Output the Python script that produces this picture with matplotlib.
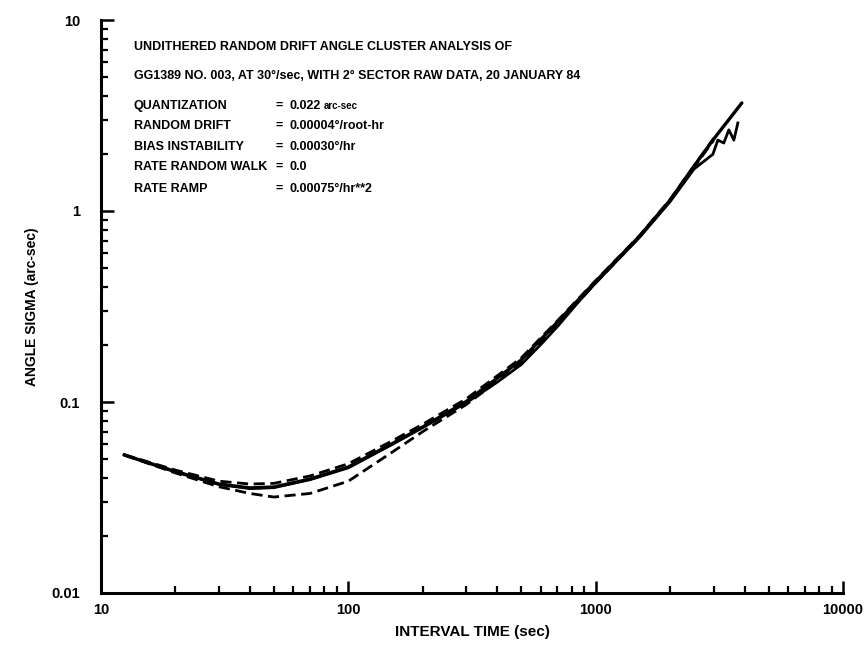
import matplotlib
matplotlib.use("Agg")
import matplotlib.pyplot as plt

# ---------------- data ----------------
fit_t = [12.4, 15, 20, 30, 40, 50, 70, 100, 150, 200, 300, 500, 700, 1000, 1500, 2000, 2500, 3000, 3900]
fit_s = [0.0528, 0.0488, 0.0433, 0.0372, 0.0355, 0.0359, 0.0395, 0.0457, 0.0604, 0.0740, 0.1007,
         0.166, 0.262, 0.428, 0.735, 1.14, 1.72, 2.38, 3.68]

data_t = [12.4, 15, 20, 30, 40, 50, 70, 100, 150, 200, 300, 400, 500, 600, 700, 850, 1000, 1500,
          2000, 2500, 2977, 3119, 3296, 3455, 3620, 3757]
data_s = [0.0530, 0.0486, 0.0430, 0.0370, 0.0352, 0.0356, 0.0392, 0.0452, 0.0598, 0.0735, 0.0990,
          0.127, 0.157, 0.200, 0.248, 0.333, 0.420, 0.725, 1.12, 1.66, 1.98, 2.35, 2.27, 2.66, 2.35, 2.89]

dash_lo_t = [12.4, 20, 30, 40, 50, 70, 100, 150, 200, 300, 500, 700, 1000, 1500, 2000, 3000]
dash_lo_s = [0.0528, 0.0425, 0.0360, 0.0332, 0.0318, 0.0332, 0.0385, 0.0545, 0.0700, 0.0970,
             0.160, 0.255, 0.420, 0.728, 1.13, 2.35]

dash_hi_t = [12.4, 20, 30, 40, 50, 70, 100, 150, 200, 300, 500, 700, 1000, 1500, 2000, 3000]
dash_hi_s = [0.0530, 0.0440, 0.0385, 0.0372, 0.0375, 0.0410, 0.0475, 0.0625, 0.0765, 0.1040,
             0.170, 0.266, 0.432, 0.740, 1.15, 2.40]

x_ticks = [10, 100, 1000, 10000]
x_labels = ["10", "100", "1000", "10000"]
y_ticks = [0.01, 0.1, 1, 10]
y_labels = ["0.01", "0.1", "1", "10"]

title_lines = ["UNDITHERED RANDOM DRIFT ANGLE CLUSTER ANALYSIS OF",
               "GG1389 NO. 003, AT 30°/sec, WITH 2° SECTOR RAW DATA, 20 JANUARY 84"]
param_names = ["QUANTIZATION", "RANDOM DRIFT", "BIAS INSTABILITY", "RATE RANDOM WALK", "RATE RAMP"]
param_values = ["0.022", "0.00004°/root-hr", "0.00030°/hr", "0.0", "0.00075°/hr**2"]
param_units = ["arc-sec", "", "", "", ""]

# ---------------- font ----------------
plt.rcParams["font.family"] = ["Liberation Sans", "DejaVu Sans"]
plt.rcParams["font.weight"] = "bold"

fig = plt.figure(figsize=(8.67, 6.56), dpi=100)
ax = fig.add_axes([101 / 867, 1 - 593 / 656, (843 - 101) / 867, (593 - 20) / 656])

ax.plot(fit_t, fit_s, color="black", lw=2.4, solid_capstyle="round")
ax.plot(data_t, data_s, color="black", lw=2.0)
ax.plot(dash_lo_t, dash_lo_s, color="black", lw=2.0, ls=(0, (4, 2)))
ax.plot(dash_hi_t, dash_hi_s, color="black", lw=2.0, ls=(0, (4, 2)))

ax.set_xscale("log")
ax.set_yscale("log")
ax.set_xlim(10, 10000)
ax.set_ylim(0.01, 10)

for s in ["top", "right"]:
    ax.spines[s].set_visible(False)
for s in ["left", "bottom"]:
    ax.spines[s].set_linewidth(2.2)

ax.set_xticks(x_ticks)
ax.set_xticklabels(x_labels)
ax.set_yticks(y_ticks)
ax.set_yticklabels(y_labels)
ax.tick_params(which="major", direction="in", length=9, width=1.8, labelsize=10.5)
ax.tick_params(axis="y", which="major", pad=15)
ax.tick_params(axis="x", which="major", pad=7)
ax.tick_params(which="minor", direction="in", length=5, width=1.6)
for lab in ax.get_xticklabels() + ax.get_yticklabels():
    lab.set_fontweight("bold")

ax.set_xlabel("INTERVAL TIME (sec)", fontsize=11, fontweight="bold", labelpad=6)
ax.set_ylabel("ANGLE SIGMA (arc-sec)", fontsize=10, fontweight="bold", labelpad=9)

tx = 134 / 867
fs = 9
fig.text(tx, 1 - 47 / 656, title_lines[0], fontsize=fs, fontweight="bold", va="center")
fig.text(tx, 1 - 76 / 656, title_lines[1], fontsize=fs, fontweight="bold", va="center")

rows_y = [106, 126, 147, 167, 189]
for name, val, unit, yy in zip(param_names, param_values, param_units, rows_y):
    y = 1 - yy / 656
    fig.text(tx, y, name, fontsize=fs, fontweight="bold", va="center")
    fig.text(276 / 867, y, "=", fontsize=fs, fontweight="bold", va="center")
    fig.text(290 / 867, y, val, fontsize=fs, fontweight="bold", va="center")
    if unit:
        fig.text(324 / 867, y, unit, fontsize=7, fontweight="bold", va="center")

fig.savefig("out.png", dpi=100, facecolor="white")
